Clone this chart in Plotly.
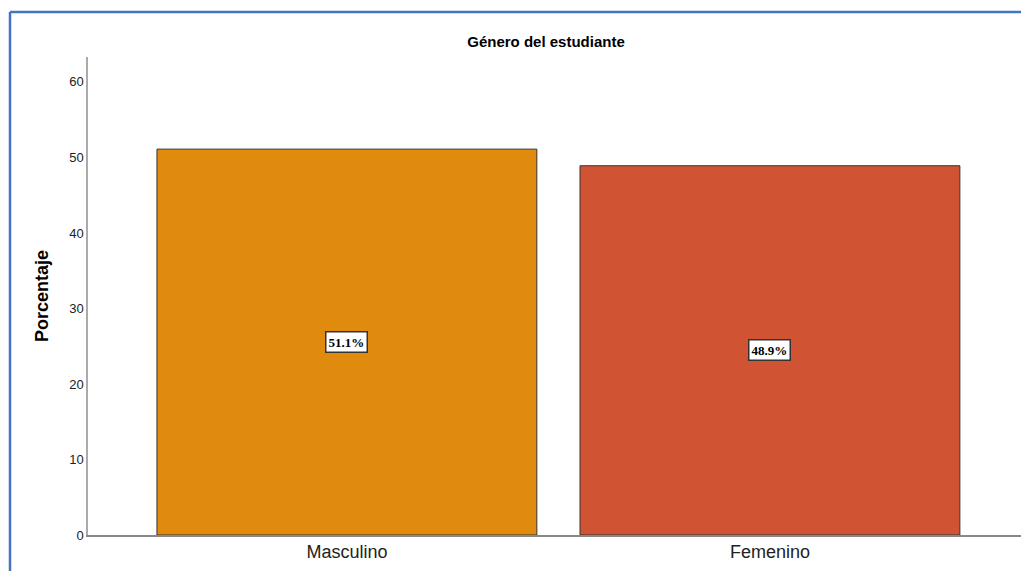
import plotly.graph_objects as go

categories = ["Masculino", "Femenino"]
percentages = [51.1, 48.9]
bar_labels = ["51.1%", "48.9%"]
bar_colors = ["#E08A0E", "#D05434"]
y_ticks = [0, 10, 20, 30, 40, 50, 60]

fig = go.Figure()

fig.add_trace(
    go.Bar(
        x=categories,
        y=percentages,
        width=0.898,
        marker=dict(color=bar_colors, line=dict(color="#333333", width=1)),
        hoverinfo="x+y",
    )
)

# value labels in boxes at bar middle
for cat, val, lab in zip(categories, percentages, bar_labels):
    fig.add_annotation(
        x=cat,
        y=val / 2,
        text=f"<b>{lab}</b>",
        showarrow=False,
        font=dict(family="Liberation Serif", size=13, color="black"),
        bgcolor="white",
        bordercolor="#333333",
        borderwidth=1.5,
        borderpad=2,
    )

# page body margin is 8px, so the figure is drawn offset by 8px
off = 8
plot_w = 940
plot_h = 478
fig.add_shape(
    type="line", xref="paper", yref="paper",
    x0=(10 - 88) / plot_w, x1=(10 - 88) / plot_w,
    y0=(535 - 12) / plot_h, y1=(535 - 575) / plot_h,
    line=dict(color="#4472C4", width=2.5),
)
fig.add_shape(
    type="line", xref="paper", yref="paper",
    x0=(10 - 88) / plot_w, x1=(1035 - 88) / plot_w,
    y0=(535 - 12) / plot_h, y1=(535 - 12) / plot_h,
    line=dict(color="#4472C4", width=2.5),
)

fig.update_layout(
    width=1029 - off,
    height=571 - off,
    margin=dict(l=88 - off, r=1, t=57 - off, b=36),
    paper_bgcolor="white",
    plot_bgcolor="white",
    showlegend=False,
    bargap=0.1,
    title=dict(
        text="<b>Género del estudiante</b>",
        x=(546 - off) / (1029 - off),
        xanchor="center",
        y=1 - (42 - off) / (571 - off),
        yanchor="middle",
        font=dict(family="Liberation Sans", size=15, color="black"),
    ),
    font=dict(family="Liberation Sans", color="black"),
)

fig.update_xaxes(
    range=[-0.612, 1.61],
    showline=True,
    linecolor="#888888",
    linewidth=1.5,
    showgrid=False,
    ticks="",
    tickfont=dict(size=18, color="#222222"),
)

fig.update_yaxes(
    range=[0, 63.3],
    tickvals=y_ticks,
    showline=True,
    linecolor="#aaaaaa",
    linewidth=1.5,
    showgrid=False,
    zeroline=False,
    ticks="",
    tickfont=dict(size=13, color="#222222"),
    title=dict(
        text="<b>Porcentaje</b>",
        font=dict(size=18, color="black"),
        standoff=16,
    ),
)

fig.write_html("out.html")
